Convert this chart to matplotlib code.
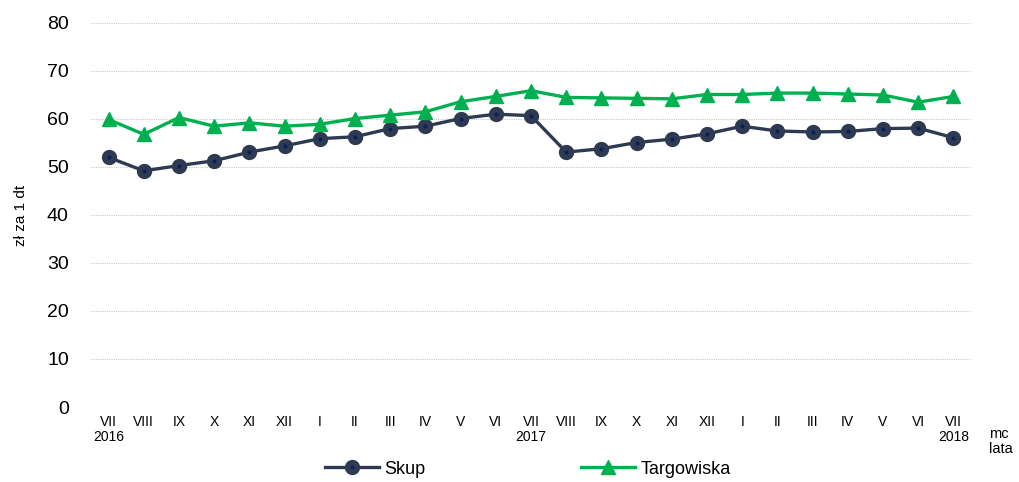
import matplotlib
matplotlib.use("Agg")
import matplotlib.pyplot as plt
import matplotlib.transforms as mtransforms

plt.rcParams["font.family"] = ["Liberation Sans", "DejaVu Sans"]

# miesiace VII 2016 - VII 2018
miesiace = ["VII\n2016", "VIII", "IX", "X", "XI", "XII", "I", "II", "III", "IV", "V", "VI",
            "VII\n2017", "VIII", "IX", "X", "XI", "XII", "I", "II", "III", "IV", "V", "VI",
            "VII\n2018"]

skup = [52.0, 49.2, 50.3, 51.3, 53.1, 54.4, 55.9, 56.3, 58.0, 58.5, 60.1, 61.0,
        60.7, 53.1, 53.8, 55.1, 55.8, 56.9, 58.5, 57.5, 57.3, 57.4, 58.0, 58.1,
        56.1]

targowiska = [59.9, 56.8, 60.3, 58.5, 59.2, 58.5, 58.9, 60.1, 60.8, 61.5, 63.6, 64.7,
              65.9, 64.5, 64.4, 64.3, 64.2, 65.1, 65.1, 65.4, 65.4, 65.2, 65.0, 63.5,
              64.7]

y_ticks = [0, 10, 20, 30, 40, 50, 60, 70, 80]

kolor_skup = "#2E3A52"
kolor_kropka = "#0A1F5C"
kolor_targ = "#00B050"

fig = plt.figure(figsize=(10.19, 4.82), dpi=100)
ax = fig.add_axes([0.0893, 0.1556, 0.8636, 0.7967])

x = list(range(len(miesiace)))

ax.plot(x, skup, color=kolor_skup, linewidth=2.4, marker="o", markersize=7,
        markerfacecolor=kolor_kropka, markeredgecolor=kolor_skup,
        markeredgewidth=4, label="Skup", zorder=3)
ax.plot(x, targowiska, color=kolor_targ, linewidth=2.4, marker="^", markersize=10,
        markerfacecolor=kolor_targ, markeredgecolor=kolor_targ,
        label="Targowiska", zorder=3)

ax.set_xlim(-0.5, len(miesiace) - 0.5)
ax.set_ylim(0, 80)
ax.set_yticks(y_ticks)
ax.set_xticks(x)
ax.set_xticklabels(miesiace, fontsize=10, linespacing=1.05)
ax.tick_params(axis="y", labelsize=14, length=0, pad=16)
ax.tick_params(axis="x", length=0, pad=6)

ax.grid(axis="y", color="#C8C8C8", linestyle=(0, (1, 1)), linewidth=0.8)
ax.set_axisbelow(True)
for s in ax.spines.values():
    s.set_visible(False)

ax.set_ylabel("zł za 1 dt", fontsize=11, labelpad=10)
ax.yaxis.set_label_coords(-0.072, 0.5)

trans = mtransforms.blended_transform_factory(ax.transAxes, ax.transAxes)
ax.text(1.021, -0.052, "mc\nlata", transform=trans, fontsize=10.5,
        ha="left", va="top", linespacing=1.1)

leg = fig.legend(loc="lower center", bbox_to_anchor=(0.518, -0.025), ncol=2,
                 frameon=False, fontsize=13, handlelength=3.0,
                 columnspacing=8.6, handletextpad=0.3)

fig.savefig("out.png", dpi=100)
